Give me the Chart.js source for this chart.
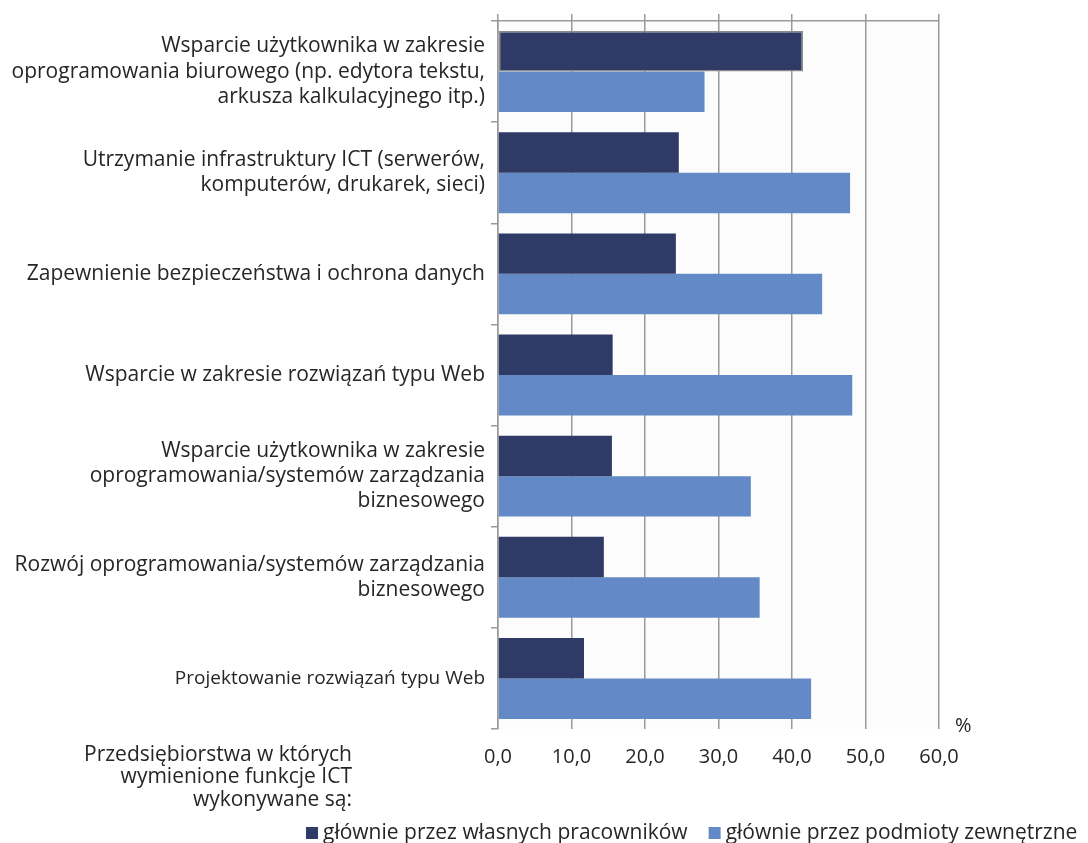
<!DOCTYPE html>
<html>
<head>
<meta charset="utf-8">
<script src="https://cdn.jsdelivr.net/npm/chart.js@4"></script>
<style>
  html, body { margin: 0; padding: 0; background: #fff; overflow: hidden; }
  #wrap { position: relative; width: 1088px; height: 843px; }
</style>
</head>
<body>
<div id="wrap"><canvas id="ictChart"></canvas></div>
<script>
const categories = [
  ['Wsparcie użytkownika w zakresie', 'oprogramowania biurowego (np. edytora tekstu,', 'arkusza kalkulacyjnego itp.)'],
  ['Utrzymanie infrastruktury ICT (serwerów,', 'komputerów, drukarek, sieci)'],
  ['Zapewnienie bezpieczeństwa i ochrona danych'],
  ['Wsparcie w zakresie rozwiązań typu Web'],
  ['Wsparcie użytkownika w zakresie', 'oprogramowania/systemów zarządzania', 'biznesowego'],
  ['Rozwój oprogramowania/systemów zarządzania', 'biznesowego'],
  ['Projektowanie rozwiązań typu Web'],
];
const ownStaff = [41.5, 24.6, 24.2, 15.6, 15.5, 14.4, 11.7];
const external = [28.1, 47.9, 44.1, 48.2, 34.4, 35.6, 42.6];
const seriesNames = ['głównie przez własnych pracowników', 'głównie przez podmioty zewnętrzne'];
const xTicks = [0, 10, 20, 30, 40, 50, 60];
const noteLines = ['Przedsiębiorstwa w których', 'wymienione funkcje ICT', 'wykonywane są:'];

const FONT = "'Open Sans', 'Noto Sans', sans-serif";
const TEXT = '#262626';
const GRID = '#9a9a9a';

// extra texts + legend drawn on the canvas
const extras = {
  id: 'extras',
  beforeDraw(chart) {
    const { ctx, chartArea } = chart;
    ctx.save();
    ctx.fillStyle = '#fcfcfc';
    ctx.fillRect(chartArea.left, chartArea.top, chartArea.right - chartArea.left, chartArea.bottom - chartArea.top);
    ctx.restore();
  },
  afterDraw(chart) {
    const { ctx } = chart;
    ctx.save();
    ctx.fillStyle = TEXT;
    ctx.font = '21px ' + FONT;
    ctx.textBaseline = 'middle';
    ctx.textAlign = 'right';
    noteLines.forEach((l, i) => ctx.fillText(l, 352, 755 + i * 22.5));
    ctx.textAlign = 'left';
    ctx.font = '20px ' + FONT;
    ctx.fillText('%', 955, 726);
    // legend
    ctx.font = '21px ' + FONT;
    let x = 306;
    chart.data.datasets.forEach((ds) => {
      ctx.fillStyle = ds.backgroundColor;
      ctx.fillRect(x, 827, 12, 12);
      ctx.fillStyle = TEXT;
      ctx.fillText(ds.label, x + 17, 833);
      x += 17 + ctx.measureText(ds.label).width + 21;
    });
    ctx.restore();
  }
};

const barData = {
  labels: categories,
  datasets: [
    {
      label: seriesNames[0],
      data: ownStaff,
      backgroundColor: '#2f3a66',
      borderColor: '#8a8a8a',
      borderWidth: (c) => (c.dataIndex === 0 ? 1.5 : 0),
      borderSkipped: false,
      categoryPercentage: 0.8,
      barPercentage: 1.0,
    },
    {
      label: seriesNames[1],
      data: external,
      backgroundColor: '#638ac6',
      borderWidth: 0,
      categoryPercentage: 0.8,
      barPercentage: 1.0,
    },
  ],
};

const barConfig = {
  type: 'bar',
  data: barData,
  plugins: [extras],
  options: {
    indexAxis: 'y',
    responsive: true,
    maintainAspectRatio: false,
    animation: false,
    layout: { padding: { left: 0, right: 149, top: 14, bottom: 58 } },
    scales: {
      x: {
        min: 0,
        max: 60,
        afterBuildTicks: (s) => { s.ticks = xTicks.map((v) => ({ value: v })); },
        border: { display: false },
        grid: { color: GRID, lineWidth: 1.5, drawTicks: false },
        ticks: {
          color: TEXT,
          font: { family: FONT, size: 20 },
          padding: 16,
          callback: (v) => Number(v).toFixed(1).replace('.', ','),
        },
      },
      xTop: {
        position: 'top',
        min: 0,
        max: 60,
        afterBuildTicks: (s) => { s.ticks = xTicks.map((v) => ({ value: v })); },
        border: { display: true, color: GRID, width: 1.5 },
        grid: { drawOnChartArea: false, drawTicks: true, tickLength: 7, color: GRID, lineWidth: 1.5 },
        ticks: { display: false },
        afterFit: (s) => { s.height = 7; },
      },
      y: {
        border: { display: true, color: GRID, width: 1.5 },
        grid: { offset: true, drawOnChartArea: false, drawTicks: true, tickLength: 7, color: GRID, lineWidth: 1.5 },
        ticks: {
          color: TEXT,
          padding: 6,
          font: (c) => ({ family: FONT, size: c.index === 6 ? 19 : 21, lineHeight: 1.2 }),
        },
        afterFit: (s) => { s.width = 498; },
      },
    },
    plugins: {
      legend: { display: false },
      tooltip: { enabled: false },
    },
  },
};

const ictCtx = document.getElementById('ictChart').getContext('2d');
new Chart(ictCtx, barConfig);
</script>
</body>
</html>
